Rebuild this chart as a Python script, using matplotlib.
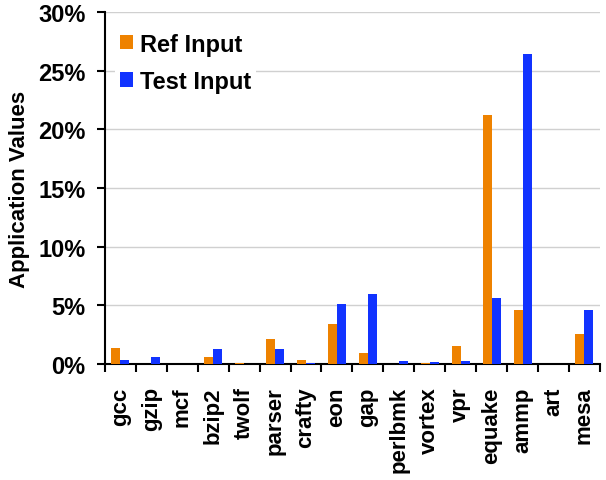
import matplotlib
matplotlib.use("Agg")
import matplotlib.pyplot as plt
import numpy as np
from matplotlib.ticker import FuncFormatter, MultipleLocator

plt.rcParams['font.family'] = ['Liberation Sans', 'DejaVu Sans']
plt.rcParams['font.weight'] = 'bold'

categories = ["gcc", "gzip", "mcf", "bzip2", "twolf", "parser", "crafty", "eon",
              "gap", "perlbmk", "vortex", "vpr", "equake", "ammp", "art", "mesa"]
ref_input = [1.4, 0.0, 0.0, 0.58, 0.1, 2.1, 0.35, 3.4,
             0.92, 0.0, 0.08, 1.5, 21.2, 4.6, 0.0, 2.6]
test_input = [0.35, 0.63, 0.0, 1.27, 0.0, 1.27, 0.1, 5.1,
              6.0, 0.3, 0.17, 0.23, 5.6, 26.4, 0.0, 4.65]

fig = plt.figure(figsize=(6.06, 4.81), dpi=100)
ax = fig.add_axes([0.173, 0.241, 0.817, 0.732])

x = np.arange(len(categories))
w = 0.29
ax.bar(x - w/2, ref_input, w, color='#EE8200', label='Ref Input', zorder=3)
ax.bar(x + w/2, test_input, w, color='#1133FF', label='Test Input', zorder=3)

ax.set_xlim(-0.5, len(categories) - 0.5)
ax.set_ylim(0, 30)
ax.yaxis.set_major_locator(MultipleLocator(5))
ax.yaxis.set_major_formatter(FuncFormatter(lambda v, p: f"{int(v)}%"))
ax.grid(axis='y', color='#d0d0d0', linewidth=1, zorder=0)

ax.set_xticks(x)
ax.set_xticklabels(categories, rotation=90, fontsize=16, fontweight='bold')
ax.tick_params(axis='x', which='major', length=0, pad=16)
ax.set_xticks(np.arange(-0.5, len(categories)), minor=True)
ax.tick_params(axis='x', which='minor', length=6, width=1.5, direction='out')
ax.tick_params(axis='y', labelsize=17, length=6, width=1.5, direction='out', pad=8)
for lab in ax.get_yticklabels():
    lab.set_fontweight('bold')

ax.set_ylabel('Application Values', fontsize=16, fontweight='bold', labelpad=6)

for s in ['top', 'right']:
    ax.spines[s].set_visible(False)
for s in ['left', 'bottom']:
    ax.spines[s].set_linewidth(1.5)

leg = ax.legend(loc='upper left', frameon=True, fontsize=17, handlelength=0.55,
                handleheight=0.55, handletextpad=0.3, borderaxespad=0.3,
                labelspacing=0.6, bbox_to_anchor=(0.006, 0.975),
                facecolor='white', edgecolor='none', framealpha=1.0,
                fancybox=False, borderpad=0.2)
leg.set_zorder(5)

fig.savefig('out.png', dpi=100)
